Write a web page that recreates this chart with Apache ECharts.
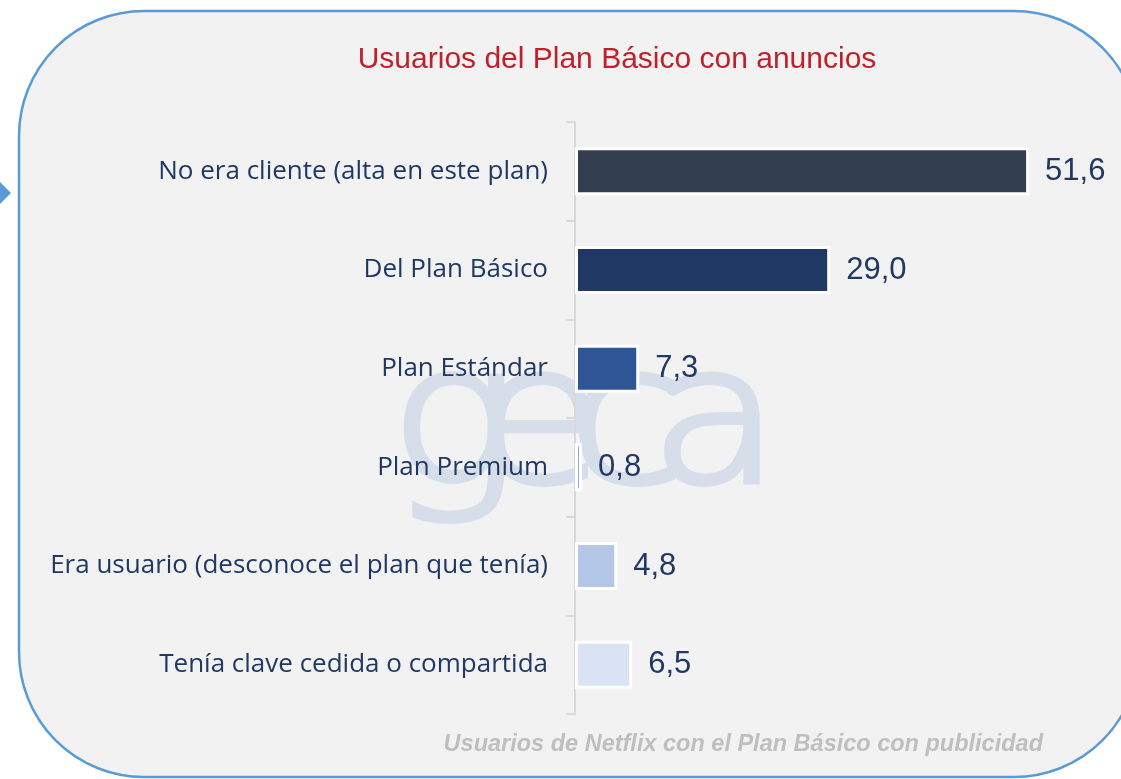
<!DOCTYPE html>
<html>
<head>
<meta charset="utf-8">
<script src="https://cdn.jsdelivr.net/npm/echarts@6/dist/echarts.min.js"></script>
<style>
html,body{margin:0;padding:0;background:#ffffff;}
#chart{width:1121px;height:779px;}
</style>
</head>
<body>
<div id="chart"></div>
<script>
var categories = [
  'No era cliente (alta en este plan)',
  'Del Plan Básico',
  'Plan Estándar',
  'Plan Premium',
  'Era usuario (desconoce el plan que tenía)',
  'Tenía clave cedida o compartida'
];
var values = [51.6, 29.0, 7.3, 0.8, 4.8, 6.5];
var barColors = ['#333F50', '#203864', '#2F5597', '#8FAADC', '#B4C7E7', '#DAE3F3'];
var titleText = 'Usuarios del Plan Básico con anuncios';
var footerText = 'Usuarios de Netflix con el Plan Básico con publicidad';
var watermarkLetters = ['g', 'e', 'c', 'a'];

var chart = echarts.init(document.getElementById('chart'), null, {renderer: 'canvas'});

var wmX = [390, 474, 568, 650];
var graphics = [
  {
    type: 'rect', z: -10, silent: true,
    shape: {x: 19, y: 11, width: 1120, height: 766, r: 125},
    style: {fill: '#F2F2F2', stroke: '#5B9BD5', lineWidth: 2.5}
  },
  {
    type: 'polygon', z: -5, silent: true,
    shape: {points: [[-2, 180], [11, 193], [-2, 206]]},
    style: {fill: '#5B9BD5'}
  },
  {
    type: 'text', z: 0, silent: true,
    x: 1043, y: 745,
    style: {
      text: footerText, fill: '#BFBFBF',
      font: 'italic bold 23.5px "Liberation Sans"',
      align: 'right', verticalAlign: 'middle'
    }
  }
];
watermarkLetters.forEach(function (ch, i) {
  graphics.push({
    type: 'text', z: 0, silent: true,
    x: wmX[i], y: 337, scaleX: 1.12,
    style: {
      text: ch, fill: '#D6DEEA', stroke: '#D6DEEA', lineWidth: 6,
      font: '200 190px "DejaVu Sans"',
      align: 'left', verticalAlign: 'top'
    }
  });
});

var option = {
  backgroundColor: 'transparent',
  animation: false,
  title: {
    text: titleText,
    left: 612, top: 40,
    textAlign: 'center',
    textStyle: {color: '#C0202A', fontSize: 30, fontWeight: 'normal', fontFamily: 'Liberation Sans'}
  },
  graphic: graphics,
  grid: {left: 575, top: 122, width: 528, height: 592, containLabel: false},
  xAxis: {
    type: 'value', min: 0, max: 60, show: false,
    splitLine: {show: false}
  },
  yAxis: {
    type: 'category', inverse: true, data: categories,
    axisLine: {show: true, lineStyle: {color: '#D9D9D9', width: 2}},
    axisTick: {show: true, length: 9, lineStyle: {color: '#D9D9D9', width: 2}},
    axisLabel: {
      margin: 27, color: '#1F3864', fontSize: 26,
      fontFamily: 'Open Sans'
    },
    splitLine: {show: false}
  },
  series: [{
    type: 'bar',
    barWidth: 48,
    data: values.map(function (v, i) {
      return {value: v, itemStyle: {color: barColors[i]}};
    }),
    itemStyle: {borderColor: '#FFFFFF', borderWidth: 3},
    label: {
      show: true, position: 'right', distance: 16,
      color: '#203864', fontSize: 31, fontFamily: 'Liberation Sans',
      formatter: function (p) { return p.value.toFixed(1).replace('.', ','); }
    }
  }]
};
chart.setOption(option);
</script>
</body>
</html>
